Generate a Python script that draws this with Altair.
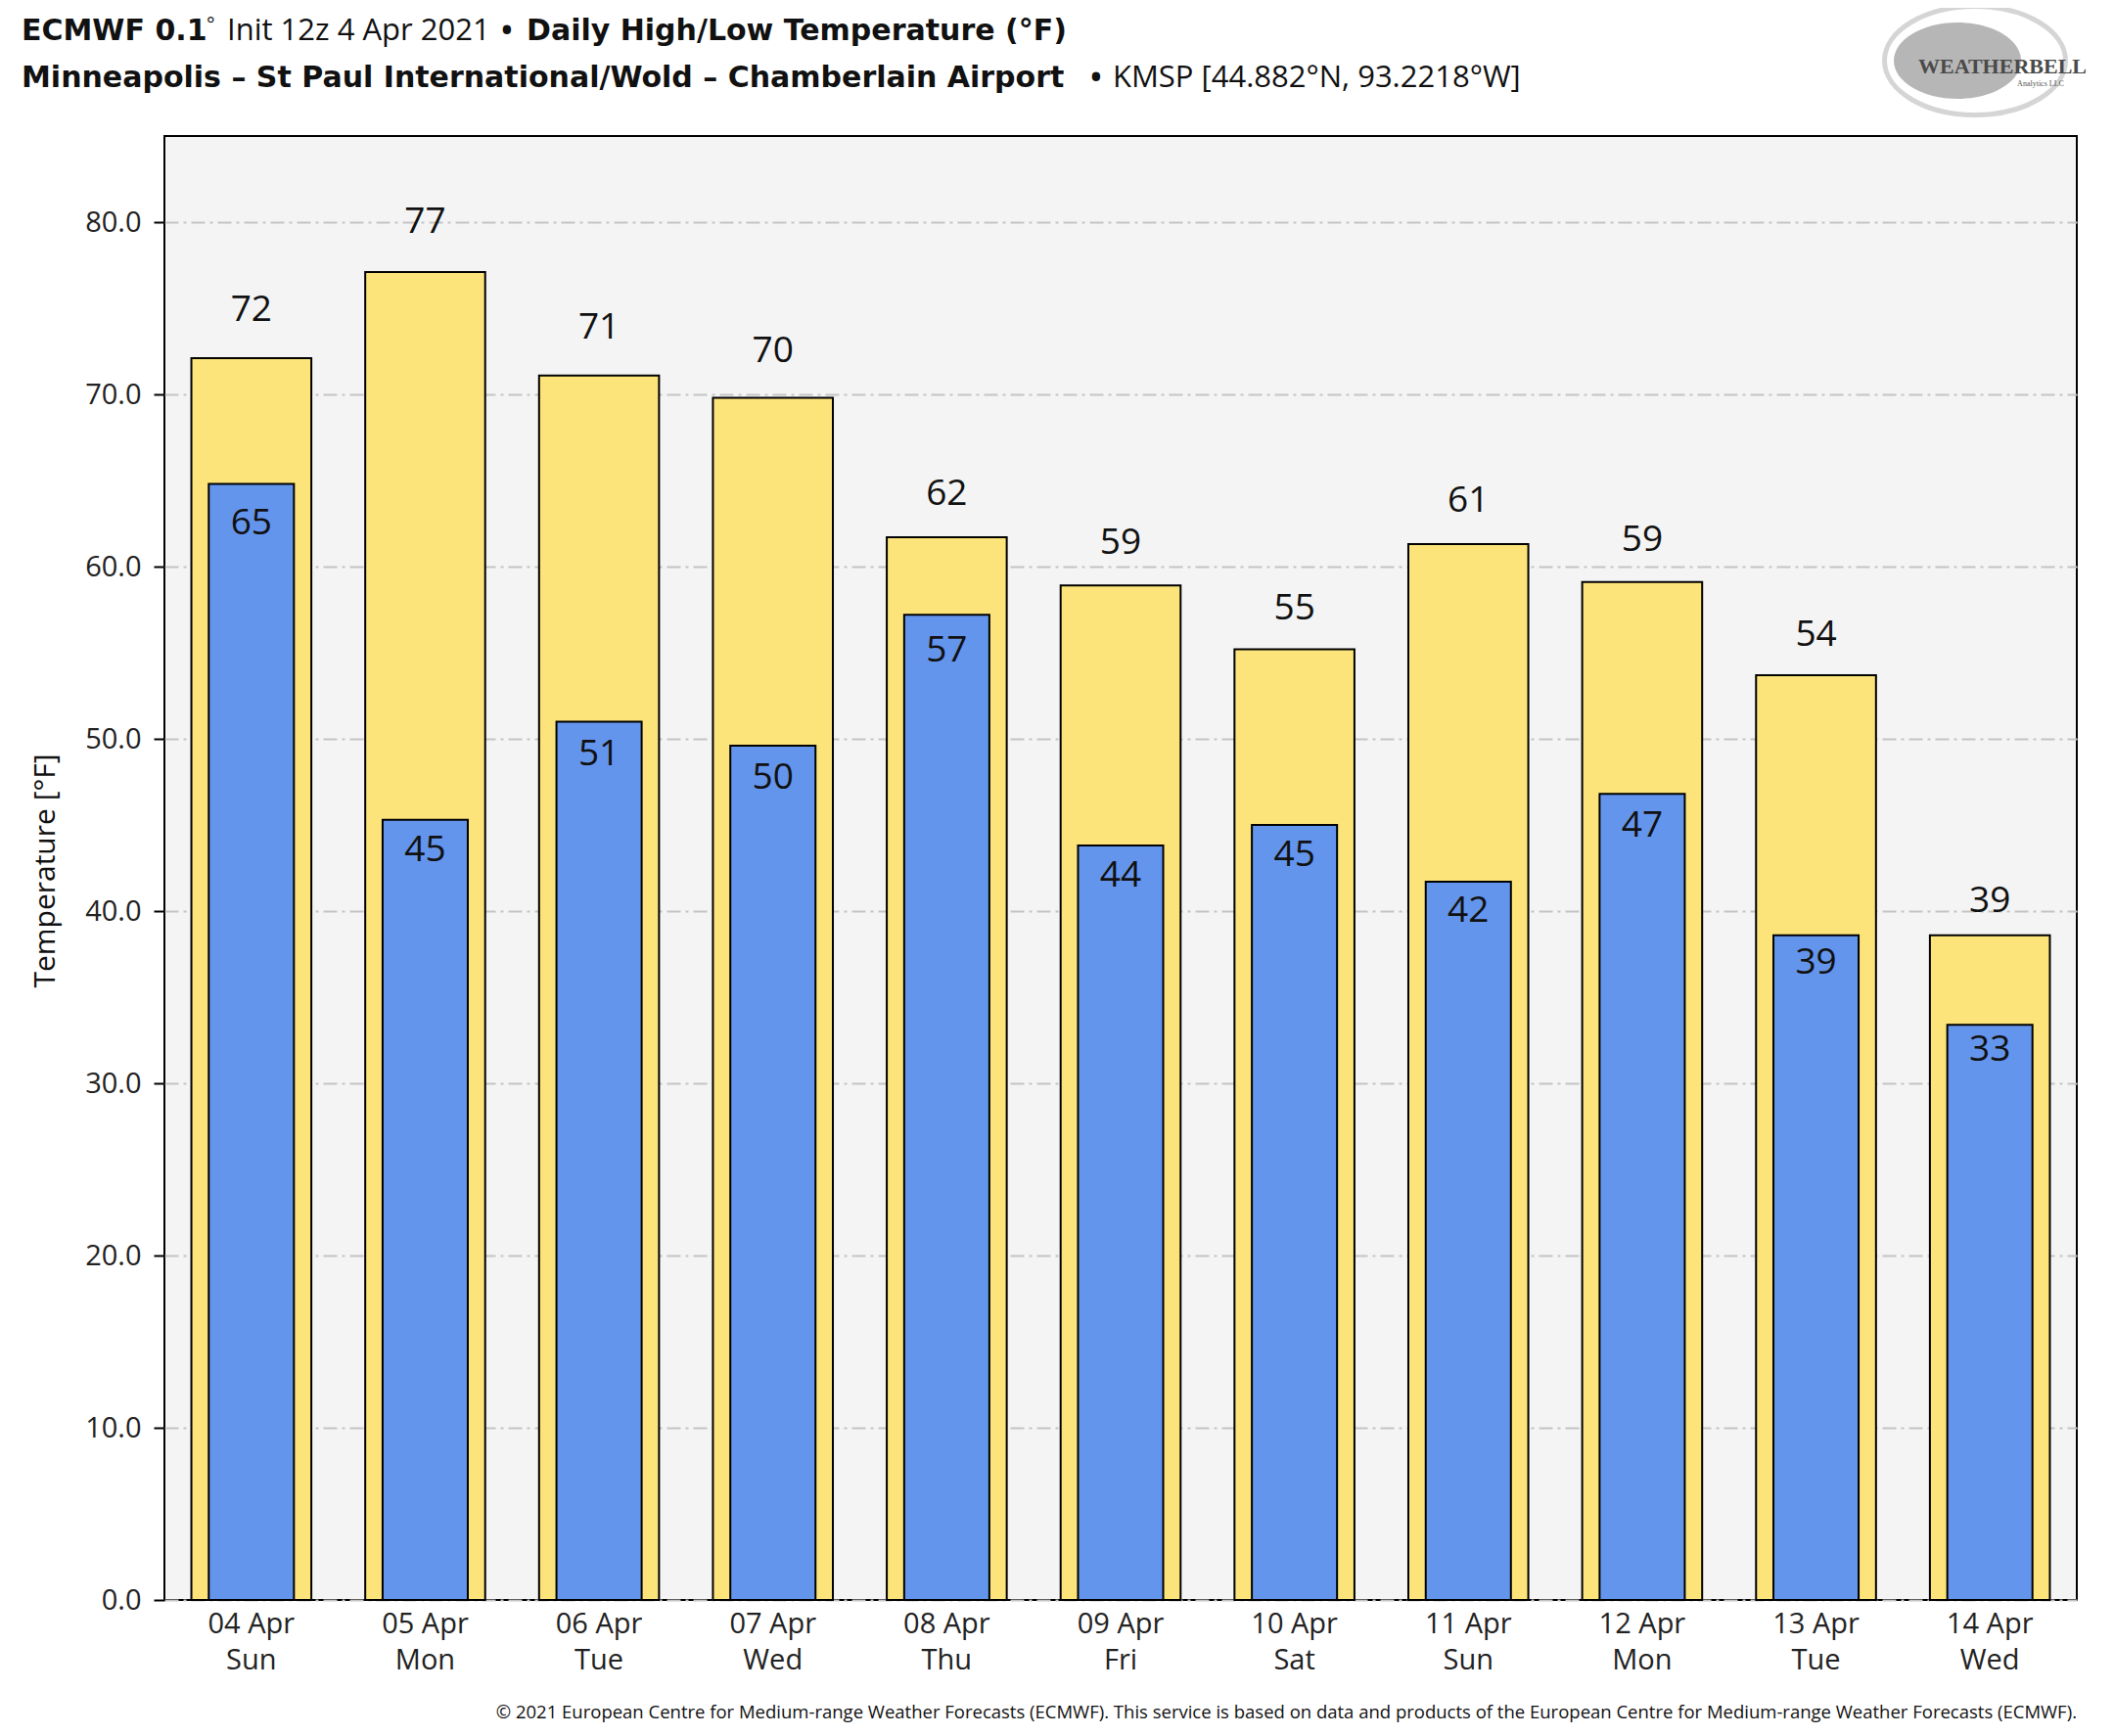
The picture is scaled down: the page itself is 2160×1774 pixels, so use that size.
import altair as alt
import pandas as pd

dates = ["04 Apr", "05 Apr", "06 Apr", "07 Apr", "08 Apr", "09 Apr",
         "10 Apr", "11 Apr", "12 Apr", "13 Apr", "14 Apr"]
days = ["Sun", "Mon", "Tue", "Wed", "Thu", "Fri", "Sat", "Sun", "Mon", "Tue", "Wed"]
highs = [72.1, 77.1, 71.1, 69.8, 61.7, 58.9, 55.2, 61.3, 59.1, 53.7, 38.6]
lows = [64.8, 45.3, 51.0, 49.6, 57.2, 43.8, 45.0, 41.7, 46.8, 38.6, 33.4]

yellow = "#FDE47A"
blue = "#6495ED"
FONT = "Open Sans"
BOLD = "DejaVu Sans"

cats = [f"{d}|{w}" for d, w in zip(dates, days)]
df = pd.DataFrame({"cat": cats, "high": highs, "low": lows})

W, H = 1954, 1496

xenc = alt.X("cat:N", sort=cats, title=None,
             scale=alt.Scale(paddingInner=0, paddingOuter=0),
             axis=alt.Axis(labelExpr="split(datum.label, '|')", labelAngle=0,
                           ticks=False, domain=False, labelFont=FONT,
                           labelFontSize=29, labelLineHeight=37, labelColor="#222",
                           labelPadding=10, grid=False))
yscale = alt.Scale(domain=[0, 85], nice=False)
yaxis = alt.Axis(values=list(range(0, 81, 10)), format=".1f", title=None,
                 domain=False, tickColor="black", tickSize=11, tickWidth=2,
                 labelFont=FONT, labelFontSize=29, labelColor="#222", labelPadding=13,
                 grid=True, gridColor="#c4c4c4", gridWidth=2, gridDash=[14, 5, 3, 5])

base = alt.Chart(df)
high_bar = base.mark_bar(width=alt.RelativeBandSize(0.69), color=yellow,
                         stroke="black", strokeWidth=2).encode(
    x=xenc, y=alt.Y("high:Q", scale=yscale, axis=yaxis))
low_bar = base.mark_bar(width=alt.RelativeBandSize(0.49), color=blue,
                        stroke="black", strokeWidth=2).encode(
    x=alt.X("cat:N", sort=cats), y=alt.Y("low:Q"))
high_txt = base.transform_calculate(ly="datum.high * 1.023 + 1.1").mark_text(
    font=FONT, fontSize=37, color="#111", baseline="middle").encode(
    x=alt.X("cat:N", sort=cats), y="ly:Q", text=alt.Text("high:Q", format=".0f"))
low_txt = base.transform_calculate(ly="datum.low * 0.975 - 0.66").mark_text(
    font=FONT, fontSize=37, color="#111", baseline="middle").encode(
    x=alt.X("cat:N", sort=cats), y="ly:Q", text=alt.Text("low:Q", format=".0f"))


def label(text, x, y, size, weight="normal", align="left", angle=0, color="#111",
          font=FONT, baseline="alphabetic"):
    return alt.Chart(pd.DataFrame({"t": [text]})).mark_text(
        font=font, fontSize=size, fontWeight=weight, align=align, angle=angle,
        color=color, baseline=baseline, clip=False).encode(
        text="t:N", x=alt.value(x), y=alt.value(y))


# page coordinates -> plot coordinates (plot origin at page 168,139)
def px(x):
    return x - 168


def py(y):
    return y - 139


title_parts = [
    label("ECMWF 0.1", px(22), py(41), 30, "bold", font=BOLD),
    label("°", px(211), py(32), 20),
    label("Init 12z 4 Apr 2021", px(232), py(41), 31),
    label("•", px(518), py(41), 30, "bold", align="center"),
    label("Daily High/Low Temperature (°F)", px(538), py(41), 30, "bold", font=BOLD),
    label("Minneapolis – St Paul International/Wold – Chamberlain Airport",
          px(22), py(89), 30, "bold", font=BOLD),
    label("•", px(1120), py(89), 30, "bold", align="center"),
    label("KMSP [44.882°N, 93.2218°W]", px(1137), py(89), 31),
    label("Temperature [°F]", px(47), py(890), 30, align="center", angle=270,
          baseline="middle"),
    label("© 2021 European Centre for Medium-range Weather Forecasts (ECMWF). "
          "This service is based on data and products of the European Centre for "
          "Medium-range Weather Forecasts (ECMWF).", px(2122), py(1756), 18.5,
          align="right"),
]

ellipse = "M-1,0A1,0.6,0,1,0,1,0A1,0.6,0,1,0,-1,0Z"
logo_ring = alt.Chart(pd.DataFrame({"t": [""]})).mark_point(
    shape=ellipse, size=185 ** 2, filled=False, stroke="#c4c4c4", strokeWidth=5,
    clip=False).encode(x=alt.value(px(2018)), y=alt.value(py(62)))
logo_fill = alt.Chart(pd.DataFrame({"t": [""]})).mark_point(
    shape=ellipse, size=130 ** 2, filled=True, fill="#a9a9a9", opacity=0.85,
    clip=False).encode(x=alt.value(px(2000)), y=alt.value(py(62)))
logo_text = [
    label("WEATHERBELL", px(2046), py(75), 22, "bold", align="center",
          color="#4a4a4a", font="Liberation Serif"),
    label("Analytics LLC", px(2085), py(88), 8, align="center", color="#555",
          font="Liberation Serif"),
]

chart = alt.layer(high_bar, low_bar, high_txt, low_txt, *title_parts,
                  logo_ring, logo_fill, *logo_text).properties(
    width=W, height=H,
    autosize=alt.AutoSizeParams(type="none"),
    padding={"left": 160, "top": 131, "right": 30, "bottom": 131},
    background="white",
).configure_view(fill="#F4F4F4", stroke="black", strokeWidth=2)

chart.save("out.html", embed_options={"renderer": "svg", "actions": False})
